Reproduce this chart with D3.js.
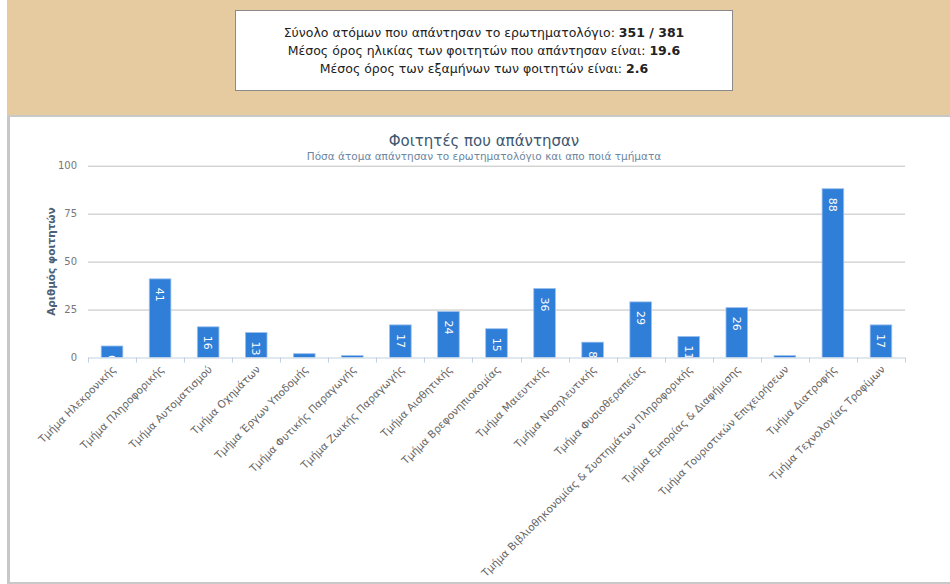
<!DOCTYPE html>
<html>
<head>
<meta charset="utf-8">
<script src="https://cdn.jsdelivr.net/npm/d3@7"></script>
<style>
  html, body { margin: 0; padding: 0; background: #fff; }
  svg { display: block; }
</style>
</head>
<body>
<svg id="chart" width="950" height="584"></svg>
<script>
// Departments and number of students who answered the questionnaire
const departments = [
  "Τμήμα Ηλεκρονικής",
  "Τμήμα Πληροφορικής",
  "Τμήμα Αυτοματισμού",
  "Τμήμα Οχημάτων",
  "Τμήμα Έργων Υποδομής",
  "Τμήμα Φυτικής Παραγωγής",
  "Τμήμα Ζωικής Παραγωγής",
  "Τμήμα Αισθητικής",
  "Τμήμα Βρεφονηπιοκομίας",
  "Τμήμα Μαιευτικής",
  "Τμήμα Νοσηλευτικής",
  "Τμήμα Φυσιοθεραπείας",
  "Τμήμα Βιβλιοθηκονομίας & Συστημάτων Πληροφορικής",
  "Τμήμα Εμπορίας & Διαφήμισης",
  "Τμήμα Τουριστικών Επιχειρήσεων",
  "Τμήμα Διατροφής",
  "Τμήμα Τεχνολογίας Τροφίμων"
];
const students = [6, 41, 16, 13, 2, 1, 17, 24, 15, 36, 8, 29, 11, 26, 1, 88, 17];
const yTicks = [0, 25, 50, 75, 100];

// Summary lines: [text, bold value]
const summaryLines = [
  ["Σύνολο ατόμων που απάντησαν το ερωτηματολόγιο: ", "351 / 381"],
  ["Μέσος όρος ηλικίας των φοιτητών που απάντησαν είναι: ", "19.6"],
  ["Μέσος όρος των εξαμήνων των φοιτητών είναι: ", "2.6"]
];
const chartTitle = "Φοιτητές που απάντησαν";
const chartSubtitle = "Πόσα άτομα απάντησαν το ερωτηματολόγιο και απο ποιά τμήματα";
const yAxisTitle = "Αριθμός φοιτητών";

const FONT = "'DejaVu Sans', Verdana, sans-serif";
const svg = d3.select("#chart");

// Page background and panels
svg.append("rect").attr("x", 7).attr("y", 0).attr("width", 943).attr("height", 117).attr("fill", "#E7CBA0");
svg.append("rect").attr("x", 235.5).attr("y", 10.5).attr("width", 497).attr("height", 80)
  .attr("fill", "#fff").attr("stroke", "#8a8a8a").attr("stroke-width", 1);
svg.append("rect").attr("x", 7).attr("y", 115).attr("width", 943).attr("height", 469).attr("fill", "#c8c8c8");
svg.append("rect").attr("x", 10).attr("y", 117).attr("width", 940).attr("height", 465).attr("fill", "#fff");

// Summary text
const summary = svg.append("text")
  .attr("font-family", FONT).attr("font-size", 12.5).attr("fill", "#222")
  .attr("text-anchor", "middle");
summaryLines.forEach((l, i) => {
  const t = summary.append("tspan").attr("x", 484).attr("y", 37 + i * 18);
  t.append("tspan").text(l[0]);
  t.append("tspan").attr("font-weight", "bold").text(l[1]);
});

// Titles
svg.append("text").attr("x", 484).attr("y", 146).attr("text-anchor", "middle")
  .attr("font-family", FONT).attr("font-size", 15).attr("fill", "#3E576F").text(chartTitle);
svg.append("text").attr("x", 484).attr("y", 159.5).attr("text-anchor", "middle")
  .attr("font-family", FONT).attr("font-size", 10.5).attr("fill", "#6D869F").text(chartSubtitle);

// Plot area
const plot = { left: 88, right: 905, top: 165.7, bottom: 357.5 };

const x = d3.scaleBand().domain(departments).range([plot.left, plot.right]).paddingInner(0.55).paddingOuter(0.275);
const xTickScale = d3.scaleLinear().domain([0, departments.length]).range([plot.left, plot.right]);
const y = d3.scaleLinear().domain([0, 100]).range([plot.bottom, plot.top]);

// Gridlines and y tick labels
const yAxis = d3.axisLeft(y).tickValues(yTicks).tickSize(-(plot.right - plot.left)).tickPadding(11);
const gy = svg.append("g").attr("transform", `translate(${plot.left},0)`).call(yAxis);
gy.select(".domain").remove();
gy.selectAll(".tick line").attr("stroke", "#C0C0C0").attr("stroke-width", 1);
gy.selectAll(".tick").filter(d => d === 0).select("line").remove();
gy.selectAll(".tick text").attr("font-family", FONT).attr("font-size", 10).attr("fill", "#777");

// Y axis title
svg.append("text")
  .attr("transform", `translate(51,${(plot.top + plot.bottom) / 2}) rotate(-90)`)
  .attr("text-anchor", "middle").attr("dy", "0.35em")
  .attr("font-family", FONT).attr("font-size", 10.5).attr("font-weight", "bold")
  .attr("fill", "#4D5F75").text(yAxisTitle);

// Clip for bars and inside labels
svg.append("clipPath").attr("id", "plotClip").append("rect")
  .attr("x", plot.left).attr("y", plot.top - 30).attr("width", plot.right - plot.left).attr("height", plot.bottom - plot.top + 30);

const bars = svg.append("g").attr("clip-path", "url(#plotClip)");
bars.selectAll("rect").data(students).join("rect")
  .attr("x", (d, i) => x(departments[i]))
  .attr("y", d => y(d))
  .attr("width", x.bandwidth())
  .attr("height", d => y(0) - y(d))
  .attr("fill", "#2F7ED8")
  .attr("stroke", "#9cc0ee").attr("stroke-width", 0.8);

bars.selectAll("text").data(students).join("text")
  .attr("transform", (d, i) => `translate(${x(departments[i]) + x.bandwidth() / 2},${y(d) + 9}) rotate(90)`)
  .attr("dy", "0.35em").attr("text-anchor", "start")
  .attr("font-family", FONT).attr("font-size", 11).attr("fill", "#fff")
  .text(d => d);

// X axis line and ticks at category boundaries
svg.append("line").attr("x1", plot.left).attr("x2", plot.right).attr("y1", plot.bottom + 0.5).attr("y2", plot.bottom + 0.5)
  .attr("stroke", "#C0D0E0").attr("stroke-width", 1);
svg.append("g").selectAll("line").data(d3.range(departments.length + 1)).join("line")
  .attr("x1", d => Math.round(xTickScale(d)) + 0.5).attr("x2", d => Math.round(xTickScale(d)) + 0.5)
  .attr("y1", plot.bottom).attr("y2", plot.bottom + 5)
  .attr("stroke", "#C0D0E0");

// Rotated category labels
svg.append("g").selectAll("text").data(departments).join("text")
  .attr("transform", d => `translate(${x(d) + x.bandwidth() / 2 + 2},${plot.bottom + 10}) rotate(-45)`)
  .attr("text-anchor", "end").attr("dy", "0.35em")
  .attr("font-family", FONT).attr("font-size", 10.5).attr("fill", "#666")
  .text(d => d);
</script>
</body>
</html>
